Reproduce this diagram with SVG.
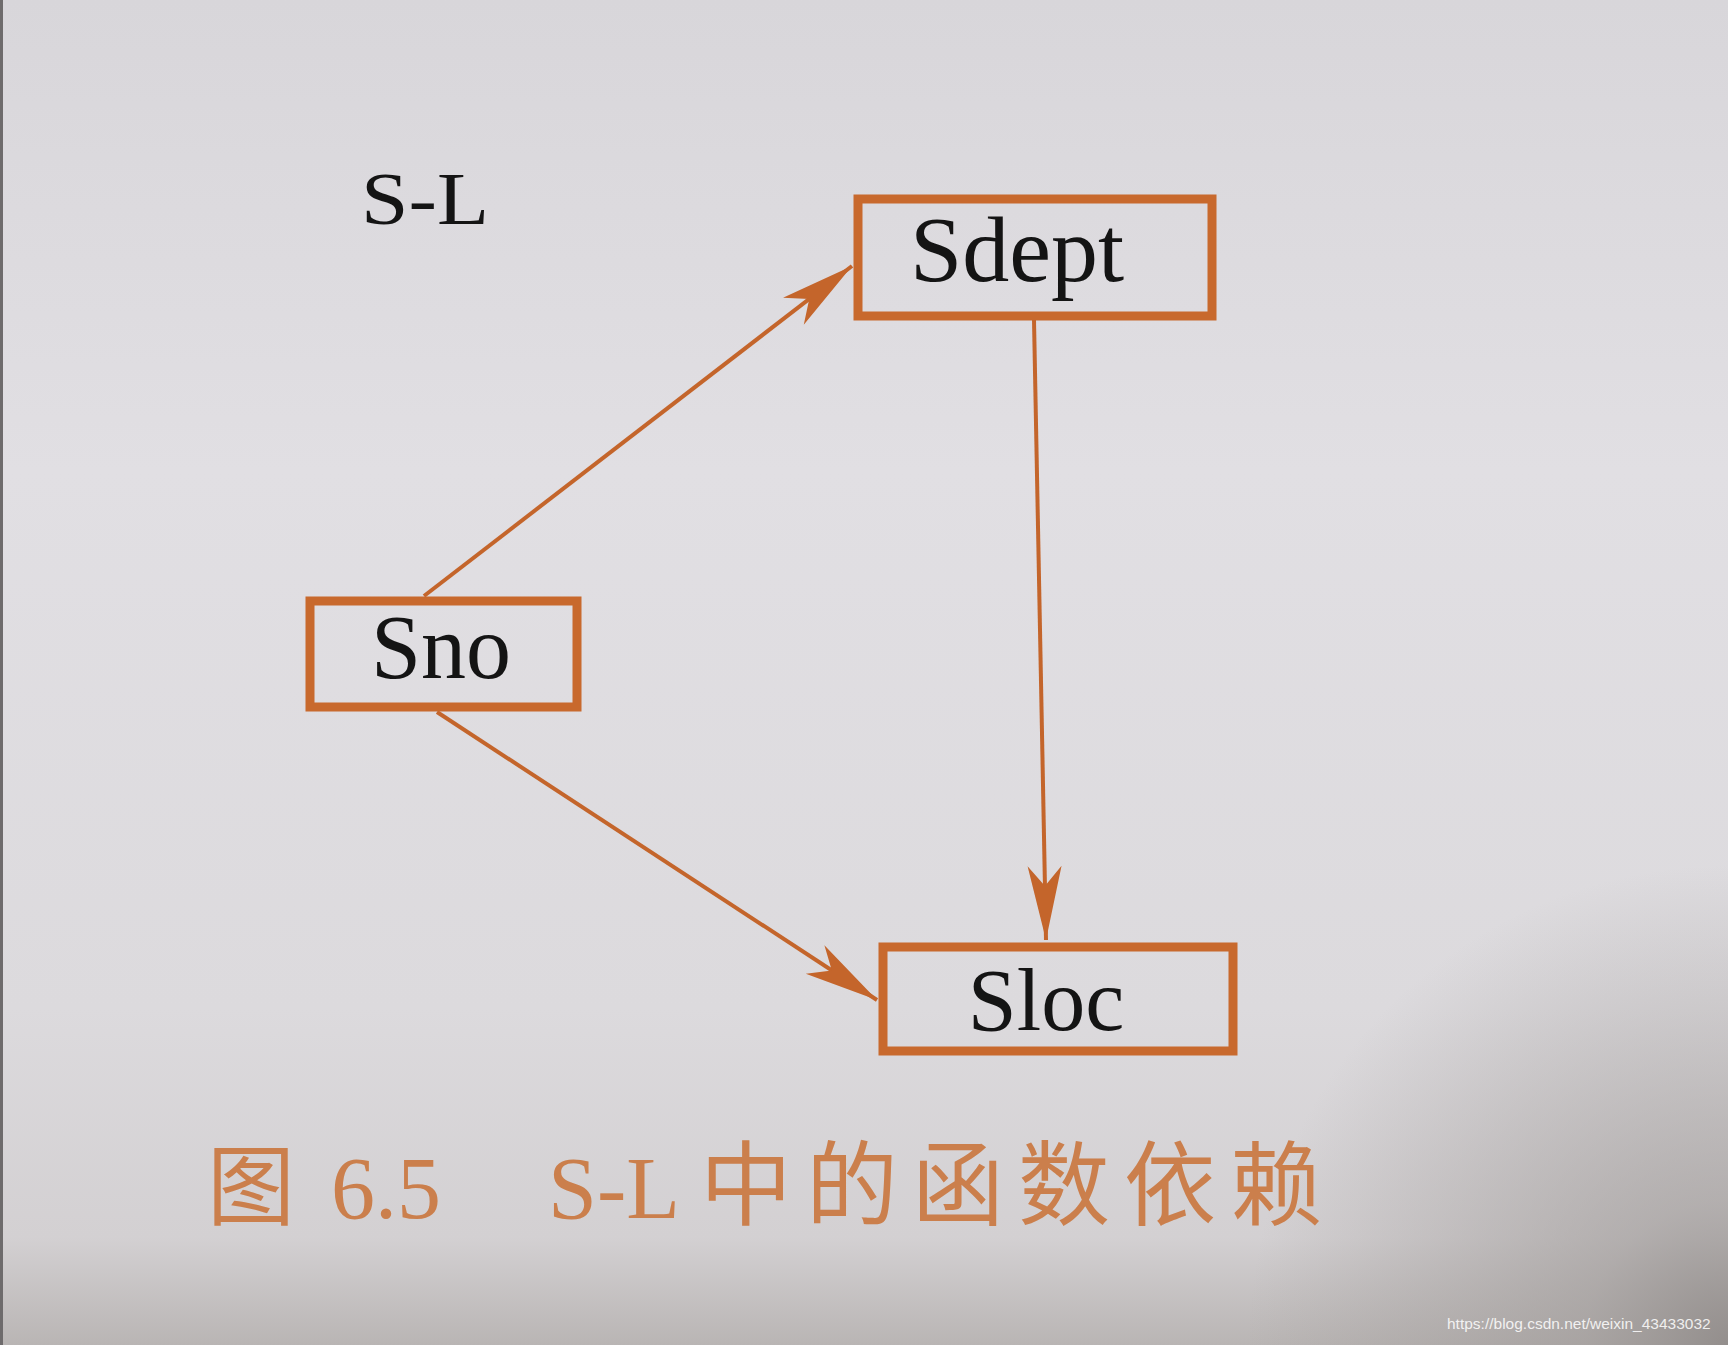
<svg xmlns="http://www.w3.org/2000/svg" width="1728" height="1345" viewBox="0 0 1728 1345">
  <defs>
    <linearGradient id="bg" x1="0" y1="0" x2="0" y2="1">
      <stop offset="0" stop-color="#d8d6da"/>
      <stop offset="0.35" stop-color="#e1dfe3"/>
      <stop offset="0.75" stop-color="#dcdadd"/>
      <stop offset="0.92" stop-color="#d3d0d2"/>
      <stop offset="1" stop-color="#b9b5b4"/>
    </linearGradient>
    <radialGradient id="shade" cx="1728" cy="1345" r="480" gradientUnits="userSpaceOnUse">
      <stop offset="0" stop-color="#8f8a88" stop-opacity="0.9"/>
      <stop offset="0.3" stop-color="#9d9896" stop-opacity="0.6"/>
      <stop offset="1" stop-color="#9d9896" stop-opacity="0"/>
    </radialGradient>
    <marker id="arrow" markerUnits="userSpaceOnUse" viewBox="-78 -20 80 40" markerWidth="80" markerHeight="40" refX="0" refY="0" orient="auto">
      <path d="M0,0 L-74,-17 L-54,0 L-74,17 Z" fill="#c4652b"/>
    </marker>
  </defs>
  <style>
    .box { fill: none; stroke: #c8692d; stroke-width: 9; }
    .lbl { font-family: "Liberation Serif", "Times New Roman", serif; fill: #141414; text-anchor: middle; }
    .edge { fill: none; stroke: #c4652b; stroke-width: 4; marker-end: url(#arrow); }
    .cap { font-family: "Liberation Serif", "Noto Sans CJK SC", serif; fill: #cb7f4c; }
    .capzh { font-family: "Noto Sans CJK SC", sans-serif; fill: #cb7f4c; }
  </style>
  <rect x="0" y="0" width="1728" height="1345" fill="url(#bg)"/>
  <rect x="0" y="0" width="1728" height="1345" fill="url(#shade)"/>
  <rect x="0" y="0" width="3" height="1345" fill="#6e6b6c"/>

  <text x="361" y="224" class="lbl" style="text-anchor:start" font-size="74" textLength="128" lengthAdjust="spacingAndGlyphs">S-L</text>

  <g id="connectors">
    <line class="edge" x1="424" y1="596" x2="852" y2="266"/>
    <line class="edge" x1="1034" y1="320" x2="1046" y2="940"/>
    <line class="edge" x1="437" y1="712" x2="877" y2="1000"/>
  </g>

  <g id="node-sdept">
    <rect class="box" x="858" y="199" width="354" height="117"/>
    <text class="lbl" x="1017" y="281" font-size="94">Sdept</text>
  </g>
  <g id="node-sno">
    <rect class="box" x="310" y="601" width="267" height="106"/>
    <text class="lbl" x="441" y="678" font-size="90">Sno</text>
  </g>
  <g id="node-sloc">
    <rect class="box" x="883" y="947" width="350" height="104"/>
    <text class="lbl" x="1046" y="1030" font-size="88">Sloc</text>
  </g>

  <g id="caption">
    <text class="capzh" x="207" y="1218" font-size="88">图</text>
    <text class="cap" x="331" y="1218" font-size="88">6.5</text>
    <text class="cap" x="548" y="1218" font-size="88">S-L</text>
    <text class="capzh" x="700" y="1218" font-size="92" letter-spacing="14">中的函数依赖</text>
  </g>

  <text x="1447" y="1329" font-family="Liberation Sans, Arial, sans-serif" font-size="15.5" fill="#ffffff" fill-opacity="0.85">https://blog.csdn.net/weixin_43433032</text>
</svg>
